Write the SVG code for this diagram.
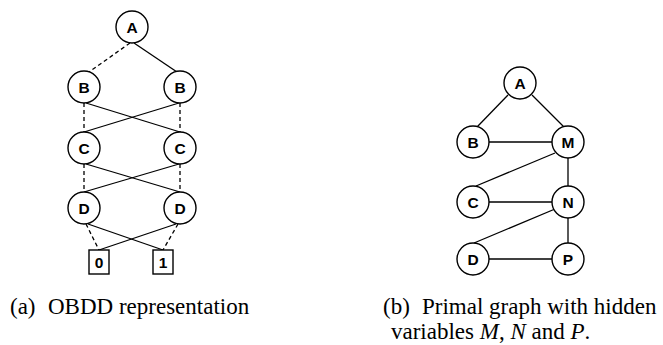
<svg xmlns="http://www.w3.org/2000/svg" width="663" height="345" viewBox="0 0 663 345">
<style>
.n circle, .n rect { fill: #fff; stroke: #000; stroke-width: 1.4; }
.n text { font-family: "Liberation Sans", Arial, sans-serif; font-weight: bold; font-size: 15.5px; text-anchor: middle; dominant-baseline: central; fill: #000; }
.e line { stroke: #000; stroke-width: 1.3; }
.e line.d { stroke-dasharray: 4 3; }
.cap { font-family: "Liberation Serif", "Times New Roman", serif; font-size: 23px; fill: #000; }
</style>
<g id="connectors" class="e">
  <line class="d" x1="130" y1="43" x2="89" y2="72"/>
  <line x1="134" y1="43" x2="177" y2="72"/>
  <line class="d" x1="84" y1="103" x2="84" y2="132"/>
  <line class="d" x1="180" y1="103" x2="180" y2="132"/>
  <line x1="86" y1="103" x2="180" y2="132"/>
  <line x1="179" y1="103" x2="84" y2="132"/>
  <line class="d" x1="84" y1="164" x2="84" y2="192"/>
  <line class="d" x1="180" y1="164" x2="180" y2="192"/>
  <line x1="86" y1="164" x2="180" y2="192"/>
  <line x1="179" y1="164" x2="84" y2="192"/>
  <line class="d" x1="86" y1="224" x2="99" y2="250"/>
  <line x1="88" y1="224" x2="163" y2="250"/>
  <line class="d" x1="178" y1="224" x2="163" y2="250"/>
  <line x1="176" y1="224" x2="99" y2="250"/>
  <line x1="508" y1="95" x2="477" y2="127"/>
  <line x1="532" y1="95" x2="564" y2="127"/>
  <line x1="489" y1="142" x2="552" y2="142"/>
  <line x1="555" y1="153" x2="476" y2="186"/>
  <line x1="568" y1="158" x2="568" y2="186"/>
  <line x1="489" y1="202" x2="552" y2="202"/>
  <line x1="555" y1="209" x2="474" y2="243"/>
  <line x1="568" y1="218" x2="568" y2="243"/>
  <line x1="489" y1="259" x2="552" y2="259"/>
</g>
<g id="a-A" class="n"><circle cx="132" cy="27" r="16"/><text x="132" y="27">A</text></g>
<g id="a-B1" class="n"><circle cx="84" cy="87" r="16"/><text x="84" y="87">B</text></g>
<g id="a-B2" class="n"><circle cx="180" cy="87" r="16"/><text x="180" y="87">B</text></g>
<g id="a-C1" class="n"><circle cx="84" cy="148" r="16"/><text x="84" y="148">C</text></g>
<g id="a-C2" class="n"><circle cx="180" cy="148" r="16"/><text x="180" y="148">C</text></g>
<g id="a-D1" class="n"><circle cx="84" cy="208" r="16"/><text x="84" y="208">D</text></g>
<g id="a-D2" class="n"><circle cx="180" cy="208" r="16"/><text x="180" y="208">D</text></g>
<g id="t0" class="n"><rect x="89" y="250" width="20" height="24"/><text x="99" y="262">0</text></g>
<g id="t1" class="n"><rect x="153" y="250" width="20" height="24"/><text x="163" y="262">1</text></g>
<g id="b-A" class="n"><circle cx="520" cy="83" r="16"/><text x="520" y="83">A</text></g>
<g id="b-B" class="n"><circle cx="473" cy="142" r="16"/><text x="473" y="142">B</text></g>
<g id="b-M" class="n"><circle cx="568" cy="142" r="16"/><text x="568" y="142">M</text></g>
<g id="b-C" class="n"><circle cx="473" cy="202" r="16"/><text x="473" y="202">C</text></g>
<g id="b-N" class="n"><circle cx="568" cy="202" r="16"/><text x="568" y="202">N</text></g>
<g id="b-D" class="n"><circle cx="473" cy="259" r="16"/><text x="473" y="259">D</text></g>
<g id="b-P" class="n"><circle cx="568" cy="259" r="16"/><text x="568" y="259">P</text></g>
<g id="captions">
  <text class="cap" x="10" y="314">(a)</text>
  <text class="cap" x="48" y="314">OBDD representation</text>
  <text class="cap" x="383" y="314">(b)</text>
  <text class="cap" x="422" y="314">Primal graph with hidden</text>
  <text class="cap" x="391" y="339">variables <tspan font-style="italic">M</tspan>, <tspan font-style="italic">N</tspan> and <tspan font-style="italic">P</tspan>.</text>
</g>
</svg>
